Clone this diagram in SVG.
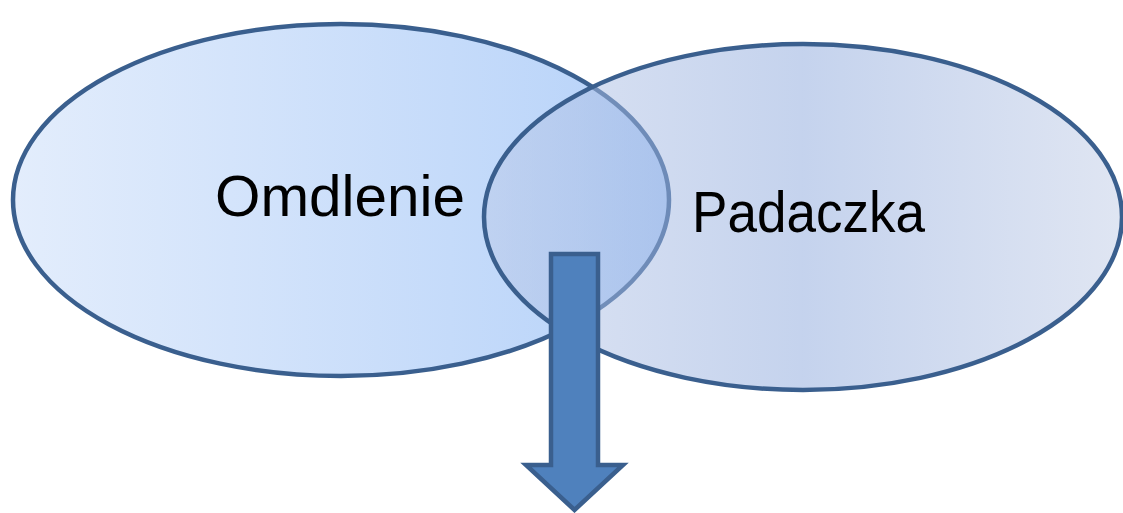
<svg xmlns="http://www.w3.org/2000/svg" width="1123" height="513" viewBox="0 0 1123 513">
<style>
.lbl{font-family:"Liberation Sans",Arial,sans-serif;font-size:58px;fill:#000}
.ol{stroke:#3a5f8e;stroke-width:4.5}
</style>
<defs>
<linearGradient id="gL" x1="0" y1="0" x2="1" y2="0">
<stop offset="0" stop-color="#e3edfc"/>
<stop offset="1" stop-color="#b6d2f9"/>
</linearGradient>
<linearGradient id="gR" x1="0" y1="0" x2="1" y2="0">
<stop offset="0" stop-color="#bccae8"/>
<stop offset="0.5" stop-color="#8ba7dc"/>
<stop offset="1" stop-color="#c0cce6"/>
</linearGradient>
</defs>
<g id="omdlenie">
<ellipse class="ol" cx="341" cy="200" rx="328" ry="176" fill="url(#gL)"/>
<text class="lbl" x="215" y="216" textLength="250" lengthAdjust="spacingAndGlyphs">Omdlenie</text>
</g>
<g id="padaczka">
<ellipse class="ol" cx="803" cy="217" rx="319" ry="173" fill="url(#gR)" fill-opacity="0.5"/>
<text class="lbl" x="692" y="232" textLength="233" lengthAdjust="spacingAndGlyphs">Padaczka</text>
</g>
<g id="connectors">
<polygon class="ol" fill="#4f81bd" stroke-linejoin="miter" points="551,254 598,254 598,465 623,465 574.5,510 526,465 551,465"/>
</g>
</svg>
